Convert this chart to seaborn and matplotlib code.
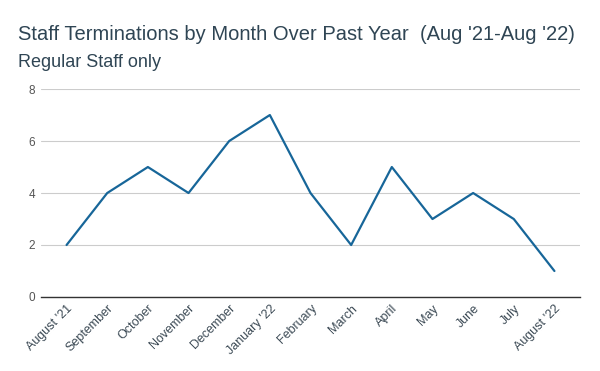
import matplotlib
matplotlib.use("Agg")
import matplotlib.pyplot as plt
import seaborn as sns
import pandas as pd

months = ["August '21", "September", "October", "November", "December", "January '22",
          "February", "March", "April", "May", "June", "July", "August '22"]
terminations = [2, 4, 5, 4, 6, 7, 4, 2, 5, 3, 4, 3, 1]
y_ticks = [0, 2, 4, 6, 8]

sns.set_theme(style="white")
plt.rcParams['font.family'] = ['Liberation Sans', 'DejaVu Sans']

df = pd.DataFrame({"month": months, "idx": range(len(months)), "value": terminations})

fig = plt.figure(figsize=(6, 3.71), dpi=100)
ax = fig.add_axes([0.068, 0.1995, 0.899, 0.5605])
sns.lineplot(data=df, x="idx", y="value", ax=ax, color="#176699", linewidth=1.6)

ax.set_xlim(-0.634, len(months) - 1 + 0.634)
ax.set_ylim(0, 8)
ax.set_yticks(y_ticks)
ax.set_yticklabels([str(t) for t in y_ticks], fontsize=8.5, color="#555555")
ax.set_xticks(range(len(months)))
ax.set_xticklabels(months, rotation=45, ha="right", rotation_mode="anchor",
                   fontsize=9, color="#3c4a55")
ax.tick_params(axis="both", length=0, pad=4)
ax.tick_params(axis="x", pad=4)
ax.yaxis.grid(True, color="#cccccc", linewidth=0.8)
ax.set_axisbelow(True)
for s in ["top", "right", "left"]:
    ax.spines[s].set_visible(False)
ax.spines["bottom"].set_color("#333333")
ax.spines["bottom"].set_linewidth(1.0)
ax.set_xlabel("")
ax.set_ylabel("")

fig.text(18 / 600, 1 - 40 / 371, "Staff Terminations by Month Over Past Year  (Aug '21-Aug '22)",
         fontsize=14.5, color="#2f4554", ha="left", va="baseline")
fig.text(18 / 600, 1 - 67 / 371, "Regular Staff only",
         fontsize=13, color="#2f4554", ha="left", va="baseline")

fig.savefig("out.png", dpi=100)
